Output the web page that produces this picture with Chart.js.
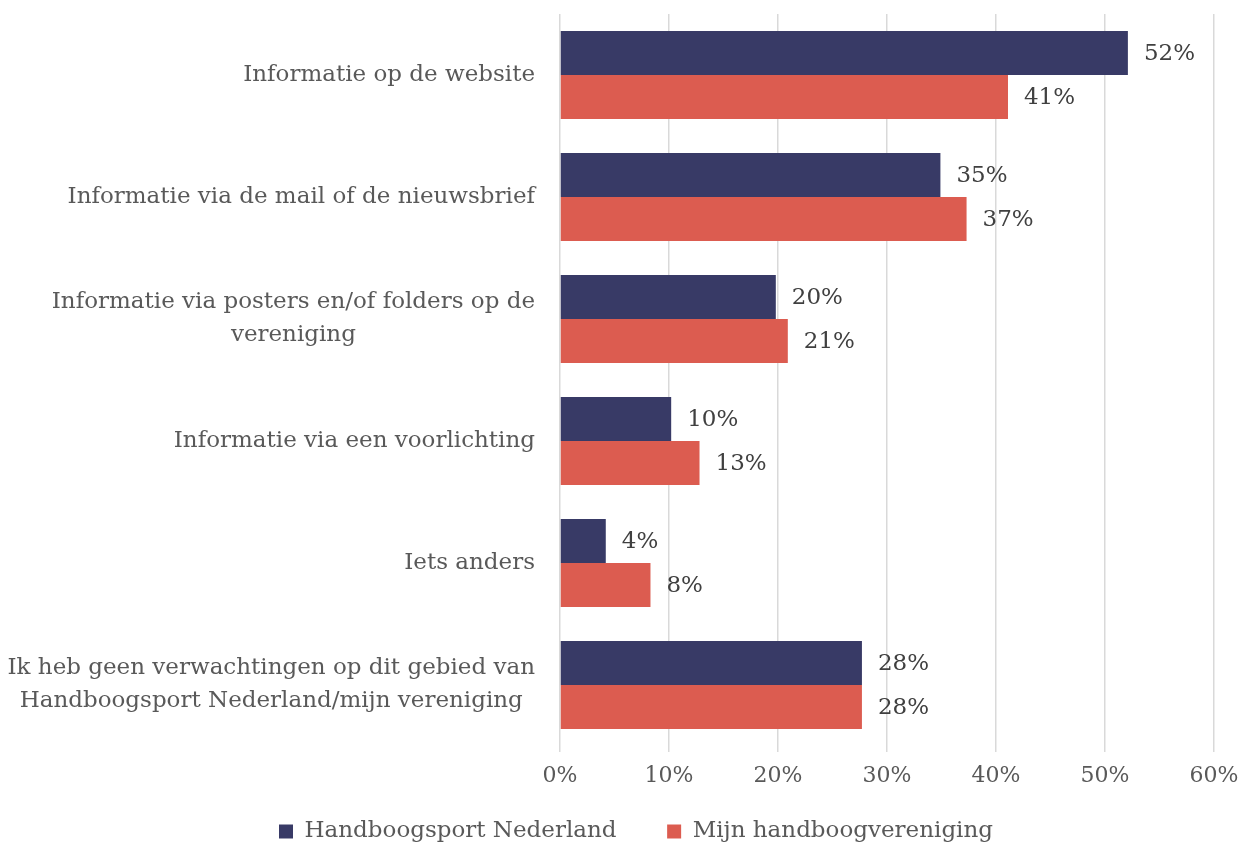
<!DOCTYPE html>
<html>
<head>
<meta charset="utf-8">
<script src="https://cdn.jsdelivr.net/npm/chart.js@4/dist/chart.umd.min.js"></script>
<style>
  html, body { margin: 0; padding: 0; background: #fff; }
  #wrap { width: 1246px; height: 846px; }
</style>
</head>
<body>
<div id="wrap"><canvas id="chart" width="1246" height="846"></canvas></div>
<script>
// categories (multi-line where the original wraps)
const categories = [
  ['Informatie op de website'],
  ['Informatie via de mail of de nieuwsbrief'],
  ['Informatie via posters en/of folders op de', 'vereniging'],
  ['Informatie via een voorlichting'],
  ['Iets anders'],
  ['Ik heb geen verwachtingen op dit gebied van', 'Handboogsport Nederland/mijn vereniging']
];
const seriesNames = ['Handboogsport Nederland', 'Mijn handboogvereniging'];
const bondValues = [52.1, 34.9, 19.8, 10.2, 4.2, 27.7];
const clubValues = [41.1, 37.3, 20.9, 12.8, 8.3, 27.7];
const xTicks = [0, 10, 20, 30, 40, 50, 60];

const FONT = '"DejaVu Serif", serif';
const TEXT = '#595959';

// right-aligned label blocks with centred lines, like the original
const yLabels = {
  id: 'yLabels',
  afterDraw(chart) {
    const scale = chart.scales.y;
    const ctx = chart.ctx;
    ctx.save();
    ctx.font = '23px ' + FONT;
    ctx.fillStyle = TEXT;
    ctx.textAlign = 'center';
    ctx.textBaseline = 'middle';
    const lh = 33;
    const right = scale.right - 25;
    categories.forEach((lines, i) => {
      const y = scale.getPixelForTick(i);
      const w = Math.max(...lines.map(l => ctx.measureText(l).width));
      const cx = right - w / 2;
      lines.forEach((l, j) => {
        ctx.fillText(l, cx, y + (j - (lines.length - 1) / 2) * lh);
      });
    });
    ctx.restore();
  }
};

// value labels at the end of each bar
const valueLabels = {
  id: 'valueLabels',
  afterDatasetsDraw(chart) {
    const ctx = chart.ctx;
    ctx.save();
    ctx.font = '23px ' + FONT;
    ctx.fillStyle = '#404040';
    ctx.textAlign = 'left';
    ctx.textBaseline = 'middle';
    chart.data.datasets.forEach((ds, di) => {
      chart.getDatasetMeta(di).data.forEach((bar, i) => {
        ctx.fillText(Math.round(ds.data[i]) + '%', bar.x + 16, bar.y + 1);
      });
    });
    ctx.restore();
  }
};

// the legend sits a little right of the canvas centre in the original
const legendShift = {
  id: 'legendShift',
  afterLayout(chart) {
    chart.legend.left += 29;
    chart.legend.right += 29;
  }
};

new Chart(document.getElementById('chart'), {
  type: 'bar',
  data: {
    labels: categories,
    datasets: [
      { label: seriesNames[0], data: bondValues, backgroundColor: '#383a66' },
      { label: seriesNames[1], data: clubValues, backgroundColor: '#dc5c50' }
    ]
  },
  options: {
    indexAxis: 'y',
    responsive: false,
    animation: false,
    layout: { padding: { top: 14, right: 32, left: 0, bottom: -7 } },
    datasets: { bar: { categoryPercentage: 0.72, barPercentage: 1.0 } },
    scales: {
      x: {
        min: xTicks[0],
        max: xTicks[xTicks.length - 1],
        afterBuildTicks(scale) { scale.ticks = xTicks.map(v => ({ value: v })); },
        afterFit(scale) {
          scale.height = 74;
          scale.paddingRight = 0;
          scale.paddingLeft = 0;
        },
        grid: { color: '#d9d9d9', lineWidth: 1.5, tickLength: 6, drawTicks: true },
        border: { display: false },
        ticks: {
          color: TEXT,
          font: { family: FONT, size: 22 },
          padding: 11,
          callback: v => v + '%'
        }
      },
      y: {
        grid: { display: false },
        border: { display: false },
        afterFit(scale) { scale.width = 560; },
        ticks: { color: 'rgba(0,0,0,0)', font: { family: FONT, size: 2 } }
      }
    },
    plugins: {
      legend: {
        position: 'bottom',
        labels: {
          color: TEXT,
          font: { family: FONT, size: 23, lineHeight: 1 },
          boxWidth: 14,
          boxHeight: 14,
          padding: 0,
          generateLabels(chart) {
            const items = Chart.defaults.plugins.legend.labels.generateLabels(chart);
            items[0].text += '\u2003\u2003\u2009';
            return items;
          }
        }
      },
      tooltip: { enabled: false }
    }
  },
  plugins: [yLabels, valueLabels, legendShift]
});
</script>
</body>
</html>
